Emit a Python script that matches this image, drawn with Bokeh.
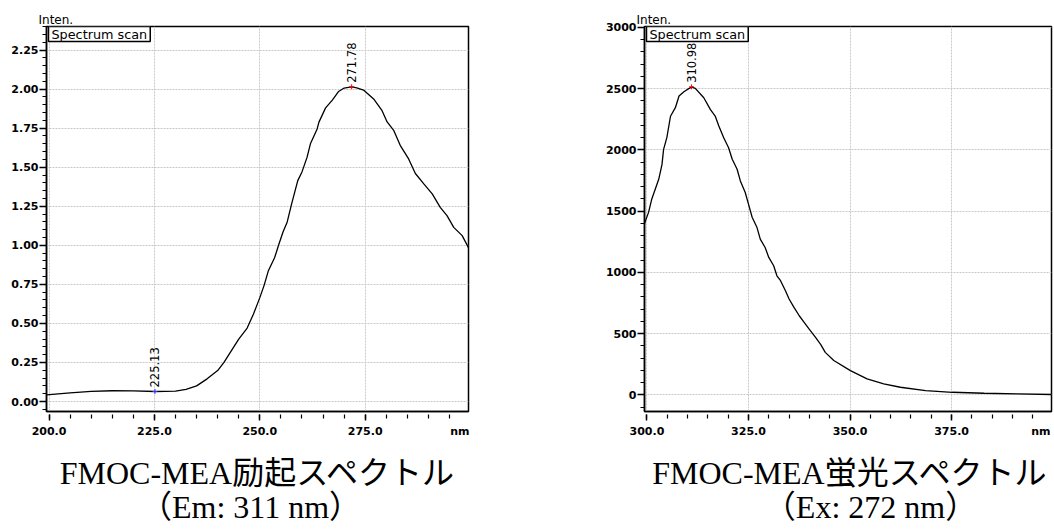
import math
from bokeh.plotting import figure
from bokeh.layouts import row, column
from bokeh.models import (Label, Title, SingleIntervalTicker, PrintfTickFormatter, Range1d,
                          ColumnDataSource)
from bokeh.core.properties import value
from bokeh.embed import file_html
from bokeh.resources import INLINE

# Excitation spectrum (Em 311 nm)
ex_nm = [199.4, 205, 210, 215, 220, 225.13, 230, 232.5, 235, 237.5, 240, 241.5, 243,
         245, 247, 248.5, 250, 251, 252, 253.5, 254.5, 255.5, 256.5, 257.5, 259, 260,
         261.2, 262, 263.6, 264, 265.6, 267.2, 268.7, 270, 271.78, 273, 274.6, 277,
         279, 280.2, 281.8, 283.3, 285.3, 286.9, 288.9, 290.9, 292.8, 294.4, 296,
         298, 299.5]
ex_int = [0.043, 0.055, 0.065, 0.069, 0.068, 0.064, 0.067, 0.078, 0.100, 0.145, 0.198,
          0.250, 0.315, 0.400, 0.470, 0.560, 0.665, 0.742, 0.835, 0.920, 1.005, 1.085,
          1.150, 1.260, 1.414, 1.470, 1.563, 1.650, 1.745, 1.787, 1.880, 1.930, 1.985,
          2.007, 2.015, 2.008, 1.994, 1.937, 1.862, 1.790, 1.734, 1.640, 1.553, 1.460,
          1.393, 1.329, 1.243, 1.190, 1.115, 1.062, 0.985]
ex_peak_nm = [225.13, 271.78]
ex_peak_int = [0.064, 2.015]
ex_peak_color = ["#3333ff", "#ff0000"]
ex_titles = ["FMOC-MEA励起スペクトル", "（Em: 311 nm）"]

# Fluorescence spectrum (Ex 272 nm)
em_nm = [299.4, 300.4, 301.2, 302.9, 303.7, 304.1, 304.9, 305.8, 307.0, 307.9, 309.1,
         310.98, 311.9, 314.0, 315.6, 316.8, 317.7, 318.9, 320.1, 321.0, 322.2, 323.0,
         324.2, 325.0, 325.9, 327.1, 327.9, 329.1, 330.0, 331.2, 332.0, 332.9, 334.1,
         335.0, 336.2, 337.5, 338.7, 339.9, 341.6, 342.8, 343.9, 346.0, 350.1, 354.2,
         358.3, 362.4, 368.6, 375.2, 383.0, 391.2, 399.6]
em_int = [1400, 1490, 1600, 1760, 1880, 2005, 2100, 2275, 2345, 2440, 2475, 2515, 2503,
          2426, 2331, 2277, 2195, 2100, 2018, 1924, 1842, 1747, 1652, 1557, 1450, 1366,
          1272, 1203, 1122, 1054, 972, 932, 850, 783, 714, 646, 592, 538, 465, 410, 347,
          280, 198, 130, 90, 62, 35, 21, 13, 8, 3]
em_peak_nm = [310.98]
em_peak_int = [2515]
em_peak_color = ["#ff0000"]
em_titles = ["FMOC-MEA蛍光スペクトル", "（Ex: 272 nm）"]

TICK_FONT = "DejaVu Sans"
TITLE_FONT = "Liberation Serif, Noto Sans CJK JP"
W = 527
PLOT_H = 440
CAP_H = 531 - PLOT_H


def spectrum(nm, inten, pk_nm, pk_int, pk_col, xr, yr, y_step, y_fmt,
             b_left, b_right, unit_dx):
    p = figure(width=W, height=PLOT_H, output_backend="svg", toolbar_location=None,
               x_range=Range1d(*xr), y_range=Range1d(*yr),
               min_border_left=b_left, min_border_right=b_right,
               min_border_top=26, min_border_bottom=PLOT_H - 411)
    p.background_fill_color = "white"
    p.border_fill_color = "white"
    p.outline_line_color = "black"
    p.outline_line_width = 1.5

    # "Inten." sits just above the top-left corner of the frame
    p.title.text = "Inten."
    p.title.align = "left"
    p.title.offset = -8
    p.title.standoff = 0
    p.title.text_font = TICK_FONT
    p.title.text_font_style = "normal"
    p.title.text_font_size = "12px"
    p.title.text_color = "black"

    xt = SingleIntervalTicker(interval=25, num_minor_ticks=5)
    yt = SingleIntervalTicker(interval=y_step, num_minor_ticks=5)
    p.xaxis.ticker = xt
    p.yaxis.ticker = yt
    p.xgrid.ticker = xt
    p.ygrid.ticker = yt
    p.xaxis.formatter = PrintfTickFormatter(format="%.1f")
    p.yaxis.formatter = PrintfTickFormatter(format=y_fmt)

    for ax in (p.xaxis[0], p.yaxis[0]):
        ax.axis_line_color = "black"
        ax.axis_line_width = 1.5
        ax.major_tick_line_color = "black"
        ax.minor_tick_line_color = "black"
        ax.major_tick_line_width = 1.5
        ax.minor_tick_line_width = 1.2
        ax.major_label_text_font = TICK_FONT
        ax.major_label_text_font_style = "bold"
        ax.major_label_text_font_size = "11px"
        ax.major_label_text_color = "black"
    p.xaxis.major_tick_in = -3
    p.xaxis.major_tick_out = 9
    p.xaxis.minor_tick_in = -3
    p.xaxis.minor_tick_out = 7
    p.xaxis.major_label_standoff = 6
    p.yaxis.major_tick_in = 0
    p.yaxis.major_tick_out = 7
    p.yaxis.minor_tick_in = 0
    p.yaxis.minor_tick_out = 4
    p.yaxis.major_label_standoff = 1

    # unit label, right-aligned on the tick-label row of the wavelength axis
    p.add_layout(Title(text="nm", align="right", vertical_align="top", offset=unit_dx,
                       standoff=-26, text_font=TICK_FONT, text_font_style="bold",
                       text_font_size="11px", text_color="black"), "below")

    for g in (p.xgrid[0], p.ygrid[0]):
        g.grid_line_color = "#c8c8c8"
        g.grid_line_dash = "2 1"
        g.grid_line_width = 1

    p.line(nm, inten, line_color="black", line_width=1.3)

    x0, x1 = xr
    y0, y1 = yr
    p.add_layout(Label(x=x0, y=y1, x_offset=2, y_offset=0, text="Spectrum scan",
                       text_align="left", text_baseline="top",
                       text_font=TICK_FONT, text_font_size="12.8px", text_color="black",
                       background_fill_color="white", border_line_color="black",
                       border_line_width=1.5, padding=(3, 0)))

    src = ColumnDataSource(dict(x=pk_nm, y=pk_int, c=pk_col,
                                t=["%.2f" % v for v in pk_nm]))
    p.scatter("x", "y", source=src, marker="cross", size=5, line_color="c", line_width=1)
    p.text("x", "y", text="t", source=src, angle=math.pi / 2, text_align="left",
           text_baseline="alphabetic", y_offset=-4, text_font=value(TICK_FONT),
           text_font_size="11.5px", text_color="black")
    return p


p1 = spectrum(ex_nm, ex_int, ex_peak_nm, ex_peak_int, ex_peak_color,
              (199.4, 299.5), (-0.064, 2.401), 0.25, "%.2f", 46, 59, -1)
p2 = spectrum(em_nm, em_int, em_peak_nm, em_peak_int, em_peak_color,
              (299.4, 399.6), (-136, 3008), 500, "%d", 117, 3, 1)

# captions under both spectra, in one strip spanning the page
cap = figure(width=2 * W, height=CAP_H, output_backend="svg", toolbar_location=None,
             title=None, x_range=Range1d(0, 2 * W), y_range=Range1d(0, CAP_H),
             x_axis_type=None, y_axis_type=None, min_border=0)
cap.grid.visible = False
cap.outline_line_color = None
cap.background_fill_color = "white"
cap.border_fill_color = "white"
cap.text(x=[257.5, 250, 850, 870], y=[CAP_H - 32, CAP_H - 66, CAP_H - 32, CAP_H - 66],
         text=ex_titles + em_titles, text_align="center", text_baseline="alphabetic",
         text_font=value(TITLE_FONT), text_font_size="32px", text_color="black")

layout = column(row(p1, p2, spacing=0), cap, spacing=0)
open("out.html", "w").write(file_html(layout, INLINE))
